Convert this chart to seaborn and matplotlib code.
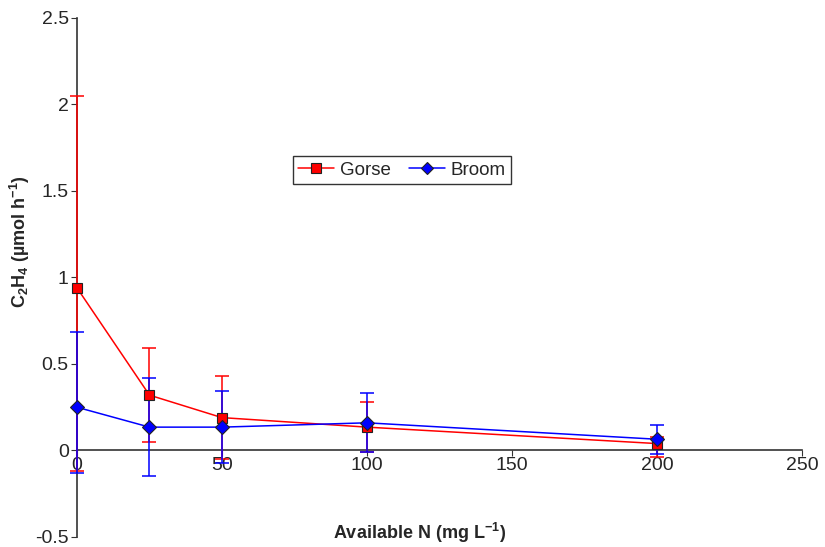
import numpy as np
import pandas as pd
import seaborn as sns
import matplotlib.pyplot as plt

# data
n_levels = [0, 25, 50, 100, 200]
gorse = [0.94, 0.32, 0.19, 0.135, 0.04]
gorse_err_lo = [1.06, 0.27, 0.24, 0.145, 0.075]
gorse_err_hi = [1.11, 0.27, 0.24, 0.145, 0.04]
broom = [0.25, 0.135, 0.135, 0.16, 0.065]
broom_err_lo = [0.38, 0.285, 0.21, 0.17, 0.085]
broom_err_hi = [0.435, 0.285, 0.21, 0.17, 0.085]

x_ticks = [0, 50, 100, 150, 200, 250]
y_ticks = [-0.5, 0, 0.5, 1, 1.5, 2, 2.5]

sns.set_style("white")
plt.rcParams['font.family'] = ['Liberation Sans', 'DejaVu Sans']
plt.rcParams['mathtext.default'] = 'regular'

df = pd.DataFrame({
    'N': n_levels * 2,
    'C2H4': gorse + broom,
    'species': ['Gorse'] * 5 + ['Broom'] * 5,
})

fig = plt.figure(figsize=(8.25, 5.47), dpi=100)
ax = fig.add_axes([0.0933, 0.0183, 0.8788, 0.9488])

colors = {'Gorse': '#ff0000', 'Broom': '#0000ff'}

for vals, lo, hi, c in [(gorse, gorse_err_lo, gorse_err_hi, '#ff0000'),
                        (broom, broom_err_lo, broom_err_hi, '#0000ff')]:
    eb = ax.errorbar(n_levels, vals, yerr=[lo, hi], fmt='none',
                     ecolor=c, elinewidth=1.1, capsize=5, capthick=1.1,
                     zorder=2)
    # keep the bars on the y axis fully visible
    for art in eb.lines[1] + eb.lines[2]:
        art.set_clip_on(False)

sns.lineplot(data=df, x='N', y='C2H4', hue='species', style='species',
             markers={'Gorse': 's', 'Broom': 'D'}, dashes=False,
             palette=colors, linewidth=1.1, markersize=7,
             markeredgecolor='#222222', markeredgewidth=0.8,
             ax=ax, zorder=3, legend=False, clip_on=False)

ax.set_xlim(0, 250)
ax.set_ylim(-0.5, 2.5)
ax.set_xticks(x_ticks)
ax.set_yticks(y_ticks)
ax.set_xticklabels([str(t) for t in x_ticks])
ax.set_yticklabels(['-0.5', '0', '0.5', '1', '1.5', '2', '2.5'])

for s in ['top', 'right']:
    ax.spines[s].set_visible(False)
ax.spines['left'].set_position(('data', 0))
ax.spines['bottom'].set_position(('data', 0))
for s in ['left', 'bottom']:
    ax.spines[s].set_color('#333333')
    ax.spines[s].set_linewidth(1.2)
    ax.spines[s].set_zorder(1)

ax.tick_params(axis='both', which='both', labelsize=14, length=4,
               direction='out', color='#333333', left=True, bottom=True)
ax.tick_params(axis='x', pad=1)
ax.tick_params(axis='y', pad=2)

ax.set_xlabel('Available N (mg L$^{-1}$)', fontsize=13, fontweight='bold')
ax.set_ylabel('C$_2$H$_4$ (µmol h$^{-1}$)', fontsize=13, fontweight='bold')
ax.xaxis.set_label_coords(0.473, 0.008)
ax.xaxis.label.set_va('center')
ax.yaxis.set_label_coords(-0.078, 0.57)
ax.yaxis.label.set_va('center')

handles = [
    plt.Line2D([], [], color='#ff0000', marker='s', markersize=7,
               markeredgecolor='#222222', markeredgewidth=0.8, linewidth=1.1),
    plt.Line2D([], [], color='#0000ff', marker='D', markersize=6,
               markeredgecolor='#222222', markeredgewidth=0.8, linewidth=1.1),
]
leg = ax.legend(handles, ['Gorse', 'Broom'], loc='center',
                bbox_to_anchor=((402 - 77) / 725, (537 - 170) / 519),
                ncol=2, fontsize=13.5, frameon=True, fancybox=False,
                edgecolor='black', handlelength=1.9, columnspacing=1.0,
                handletextpad=0.3, borderpad=0.3)
leg.get_frame().set_linewidth(1.0)

fig.savefig('out.png', dpi=100)
